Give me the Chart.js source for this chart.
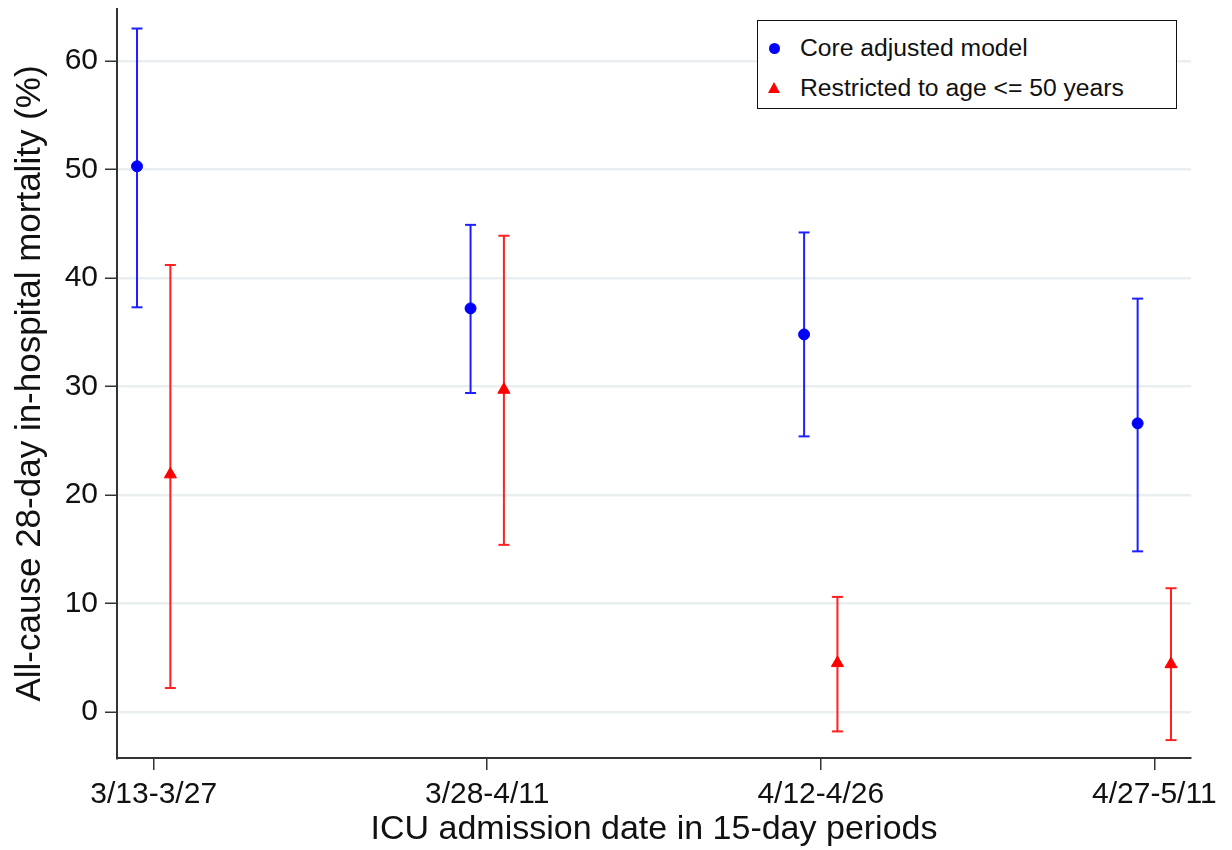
<!DOCTYPE html>
<html>
<head>
<meta charset="utf-8">
<script src="https://cdn.jsdelivr.net/npm/chart.js@4.4.1/dist/chart.umd.min.js"></script>
<style>
    html, body { margin: 0; padding: 0; background: #ffffff; }
    #wrap { position: relative; width: 1232px; height: 850px; }
    #leyenda {
        position: absolute; left: 757px; top: 20px; width: 418px; height: 87px;
        border: 1.5px solid #111; background: #fff;
        font-family: "Liberation Sans", Arial, sans-serif; font-size: 24.7px; color: #111;
    }
    .fila { position: absolute; left: 0; height: 30px; line-height: 30px; white-space: nowrap; }
    .fila span.txt { position: absolute; left: 42px; top: 0; }
    .circulo { position: absolute; left: 11px; top: 10px; width: 11px; height: 11px; border-radius: 50%; background: #0000ff; }
    .triangulo { position: absolute; left: 10px; top: 9px; width: 0; height: 0;
        border-left: 6px solid transparent; border-right: 6px solid transparent; border-bottom: 11px solid #ff0000; }
</style>
</head>
<body>
<div id="wrap">
    <canvas id="grafica" width="1232" height="850"></canvas>
    <div id="leyenda">
        <div class="fila" style="top:12px"><span class="circulo"></span><span class="txt" id="lab0"></span></div>
        <div class="fila" style="top:52px"><span class="triangulo"></span><span class="txt" id="lab1"></span></div>
    </div>
</div>
<script>
// periodos (eje x)
var periodos = ['3/13-3/27', '3/28-4/11', '4/12-4/26', '4/27-5/11'];
var nombresSeries = ['Core adjusted model', 'Restricted to age <= 50 years'];

// modelo principal
var coreEst = [50.3, 37.2, 34.8, 26.6];
var coreLo  = [37.3, 29.4, 25.4, 14.8];
var coreHi  = [63.0, 44.9, 44.2, 38.1];

// edad <= 50
var jovenEst = [21.9, 29.7, 4.5, 4.4];
var jovenLo  = [2.2, 15.4, -1.8, -2.6];
var jovenHi  = [41.2, 43.9, 10.6, 11.4];

var ticksY = [0, 10, 20, 30, 40, 50, 60];
var desplazamiento = 0.05;

var fuente = '"Liberation Sans", Arial, sans-serif';

document.getElementById('lab0').textContent = nombresSeries[0];
document.getElementById('lab1').textContent = nombresSeries[1];

// puntos centrales
function puntos(est, dx) {
    return est.map(function (v, i) { return { x: i + 1 + dx, y: v }; });
}

// segmentos de intervalo: lo, hi, hueco
function barras(lo, hi, dx) {
    var out = [];
    for (var i = 0; i < lo.length; i++) {
        out.push({ x: i + 1 + dx, y: lo[i] });
        out.push({ x: i + 1 + dx, y: hi[i] });
        out.push({ x: i + 1 + dx, y: null });
    }
    return out;
}

var ctx = document.getElementById('grafica').getContext('2d');
var grafica = new Chart(ctx, {
    type: 'scatter',
    data: {
        datasets: [{
            label: nombresSeries[0],
            data: puntos(coreEst, -desplazamiento),
            backgroundColor: '#0000ff',
            borderColor: '#0000ff',
            pointStyle: 'circle',
            pointRadius: 5.5,
            order: 0
        }, {
            label: nombresSeries[1],
            data: puntos(jovenEst, desplazamiento),
            backgroundColor: '#ff0000',
            borderColor: '#ff0000',
            pointStyle: 'triangle',
            pointRadius: 7,
            order: 0
        }, {
            label: 'ic core',
            data: barras(coreLo, coreHi, -desplazamiento),
            showLine: true,
            spanGaps: false,
            borderColor: '#2020ff',
            borderWidth: 2,
            pointStyle: 'line',
            pointRadius: 5.5,
            pointBorderWidth: 2,
            pointBorderColor: '#2020ff',
            order: 1
        }, {
            label: 'ic joven',
            data: barras(jovenLo, jovenHi, desplazamiento),
            showLine: true,
            spanGaps: false,
            borderColor: '#ff2020',
            borderWidth: 2,
            pointStyle: 'line',
            pointRadius: 5.5,
            pointBorderWidth: 2,
            pointBorderColor: '#ff2020',
            order: 1
        }]
    },
    options: {
        responsive: false,
        animation: false,
        layout: { padding: { top: 9, right: 41, left: 0, bottom: 0 } },
        plugins: {
            legend: { display: false },
            tooltip: { enabled: false }
        },
        scales: {
            x: {
                type: 'linear',
                min: 0.89,
                max: 4.11,
                afterFit: function (s) {
                    s.height = 92;
                    s.paddingLeft = 0;
                    s.paddingRight = 0;
                },
                afterBuildTicks: function (s) {
                    s.ticks = periodos.map(function (p, i) { return { value: i + 1 }; });
                },
                ticks: {
                    callback: function (v) { return periodos[v - 1]; },
                    color: '#111',
                    font: { family: fuente, size: 30 },
                    padding: 7,
                    maxRotation: 0,
                    autoSkip: false
                },
                grid: {
                    drawOnChartArea: false,
                    drawTicks: true,
                    tickLength: 12,
                    color: '#333',
                    lineWidth: 1.5
                },
                border: { display: true, color: '#333', width: 2 },
                title: {
                    display: true,
                    text: 'ICU admission date in 15-day periods',
                    color: '#111',
                    font: { family: fuente, size: 34 },
                    padding: { top: 0, bottom: 0 }
                }
            },
            y: {
                type: 'linear',
                min: -4.25,
                max: 64.8,
                afterFit: function (s) {
                    s.width = 117;
                    s.paddingTop = 0;
                    s.paddingBottom = 0;
                },
                afterBuildTicks: function (s) {
                    s.ticks = ticksY.map(function (v) { return { value: v }; });
                },
                ticks: {
                    color: '#111',
                    font: { family: fuente, size: 30 },
                    padding: 7
                },
                grid: {
                    color: '#e9eff1',
                    lineWidth: 2.5,
                    drawTicks: true,
                    tickLength: 12,
                    tickColor: '#333',
                    tickWidth: 1.5
                },
                border: { display: true, color: '#333', width: 2 },
                title: {
                    display: true,
                    text: 'All-cause 28-day in-hospital mortality (%)',
                    color: '#111',
                    font: { family: fuente, size: 35 },
                    padding: { top: 9, bottom: 0 }
                }
            }
        }
    }
});
</script>
</body>
</html>
